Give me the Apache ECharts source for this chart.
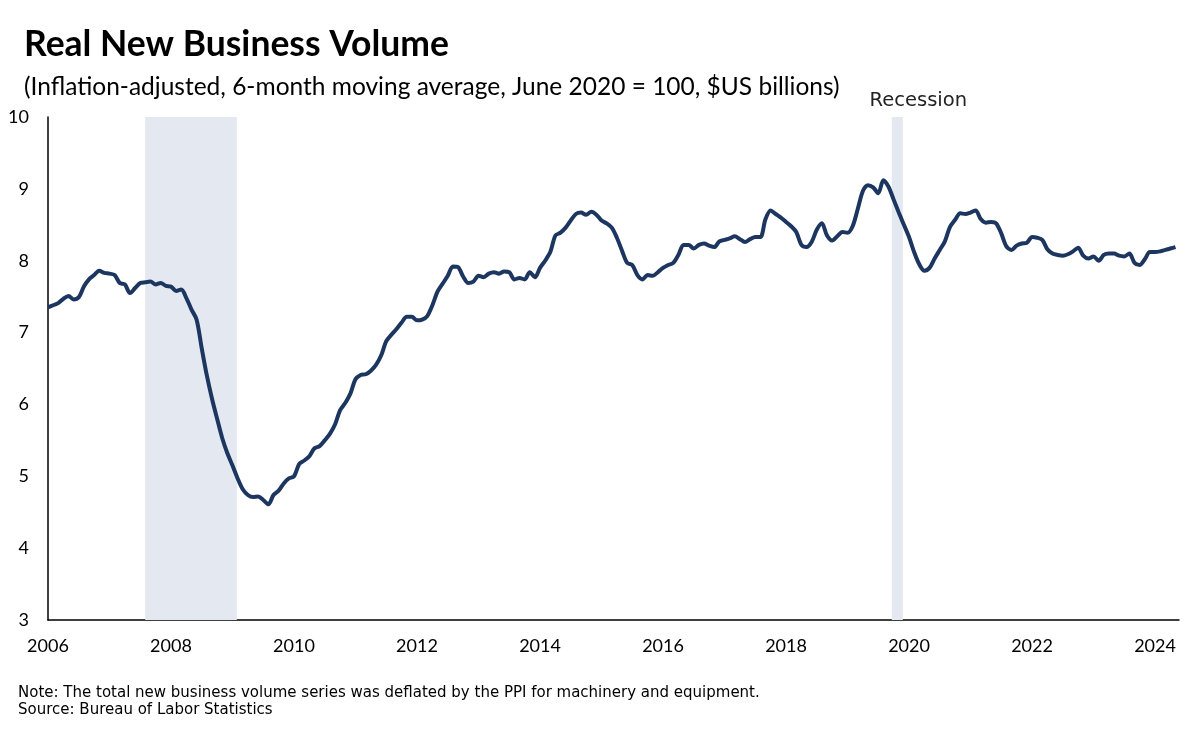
<!DOCTYPE html>
<html>
<head>
<meta charset="utf-8">
<script src="https://cdn.jsdelivr.net/npm/echarts@6/dist/echarts.min.js"></script>
<style>
html,body{margin:0;padding:0;background:#fff;}
#chart{width:1200px;height:732px;}
</style>
</head>
<body>
<div id="chart"></div>
<script>
// Monthly data, January 2006 through May 2024
const startYear = 2006;
const values = [
  7.35, 7.38, 7.41, 7.47, 7.51, 7.46, 7.49, 7.64, 7.74, 7.80, 7.86, 7.83, // 2006
  7.82, 7.80, 7.69, 7.67, 7.55, 7.62, 7.69, 7.70, 7.71, 7.67, 7.69, 7.65, // 2007
  7.64, 7.58, 7.60, 7.48, 7.32, 7.18, 6.78, 6.40, 6.08, 5.80, 5.53, 5.32, // 2008
  5.15, 4.97, 4.82, 4.74, 4.71, 4.72, 4.67, 4.61, 4.74, 4.80, 4.90, 4.97, // 2009
  5.00, 5.17, 5.22, 5.28, 5.39, 5.42, 5.50, 5.59, 5.72, 5.92, 6.02, 6.15, // 2010
  6.35, 6.41, 6.42, 6.47, 6.55, 6.68, 6.88, 6.97, 7.05, 7.14, 7.22, 7.22, // 2011
  7.17, 7.18, 7.23, 7.38, 7.57, 7.68, 7.79, 7.92, 7.91, 7.78, 7.69, 7.71, // 2012
  7.79, 7.77, 7.82, 7.84, 7.82, 7.85, 7.84, 7.74, 7.76, 7.74, 7.84, 7.77, // 2013
  7.90, 8.00, 8.12, 8.35, 8.39, 8.46, 8.56, 8.65, 8.67, 8.64, 8.68, 8.64, // 2014
  8.56, 8.52, 8.46, 8.32, 8.14, 7.97, 7.94, 7.80, 7.74, 7.80, 7.79, 7.84, // 2015
  7.90, 7.94, 7.97, 8.08, 8.22, 8.22, 8.17, 8.22, 8.24, 8.21, 8.19, 8.27, // 2016
  8.29, 8.31, 8.34, 8.30, 8.26, 8.30, 8.33, 8.33, 8.58, 8.70, 8.65, 8.60, // 2017
  8.54, 8.48, 8.40, 8.22, 8.19, 8.26, 8.43, 8.52, 8.35, 8.28, 8.34, 8.40, // 2018
  8.39, 8.48, 8.72, 8.97, 9.05, 9.02, 8.94, 9.12, 9.03, 8.85, 8.67, 8.50, // 2019
  8.33, 8.12, 7.95, 7.86, 7.90, 8.03, 8.15, 8.27, 8.47, 8.57, 8.66, 8.65, // 2020
  8.67, 8.70, 8.58, 8.53, 8.54, 8.52, 8.38, 8.20, 8.15, 8.21, 8.24, 8.25, // 2021
  8.33, 8.32, 8.29, 8.16, 8.10, 8.08, 8.07, 8.09, 8.13, 8.18, 8.07, 8.03, // 2022
  8.06, 8.00, 8.08, 8.10, 8.10, 8.07, 8.06, 8.10, 7.97, 7.94, 8.02, 8.12, // 2023
  8.12, 8.13, 8.15, 8.17, 8.19                                            // 2024
];
const yearTicks = [2006, 2008, 2010, 2012, 2014, 2016, 2018, 2020, 2022, 2024];
const recessions = [[2007.58, 2009.07, ''], [2019.72, 2019.90, 'Recession']];
const xMin = 2006, xMax = 2024.39;
const yMin = 3, yMax = 10;

const seriesData = values.map((v, i) => [startYear + i / 12, v]);

const chart = echarts.init(document.getElementById('chart'), null, {renderer: 'canvas'});
const option = {
  backgroundColor: '#ffffff',
  animation: false,
  title: [
    {text: 'Real New Business Volume', left: 19, top: 22,
     textStyle: {fontFamily: 'Lato', fontWeight: 'bold', fontSize: 35.5, color: '#000'}},
    {text: '(Inflation-adjusted, 6-month moving average, June 2020 = 100, $US billions)', left: 19, top: 70,
     textStyle: {fontFamily: 'Lato', fontWeight: 'normal', fontSize: 24.5, color: '#000'}},
    {text: 'Note: The total new business volume series was deflated by the PPI for machinery and equipment.', left: 13, top: 681,
     textStyle: {fontFamily: 'DejaVu Sans', fontWeight: 'normal', fontSize: 15, color: '#000'}},
    {text: 'Source: Bureau of Labor Statistics', left: 13, top: 698,
     textStyle: {fontFamily: 'DejaVu Sans', fontWeight: 'normal', fontSize: 15, color: '#000'}}
  ],
  grid: {left: 48, right: 21, top: 117, bottom: 112, containLabel: false},
  xAxis: {
    type: 'value', min: xMin, max: xMax, interval: 2,
    axisLine: {show: true, lineStyle: {color: '#000', width: 1.5}},
    axisTick: {show: false},
    splitLine: {show: false},
    axisLabel: {
      color: '#000', fontFamily: 'Lato', fontSize: 18, margin: 17,
      showMaxLabel: false,
      formatter: v => (yearTicks.indexOf(Math.round(v * 1000) / 1000) >= 0 ? String(v) : '')
    }
  },
  yAxis: {
    type: 'value', min: yMin, max: yMax, interval: 1,
    axisLine: {show: true, lineStyle: {color: '#000', width: 1.5}},
    axisTick: {show: false},
    splitLine: {show: false},
    axisLabel: {color: '#000', fontFamily: 'Lato', fontSize: 18, margin: 19}
  },
  series: [{
    type: 'line',
    data: seriesData,
    showSymbol: false,
    smooth: 0.3,
    lineStyle: {color: '#1d3660', width: 4},
    z: 3,
    markArea: {
      silent: true,
      itemStyle: {color: '#e4e8f0'},
      label: {show: true, position: 'top', distance: 6, offset: [21, 0], color: '#222',
              fontFamily: 'DejaVu Sans', fontSize: 19.5},
      data: recessions.map(r => [{xAxis: r[0], name: r[2]}, {xAxis: r[1]}])
    }
  }]
};
chart.setOption(option);
</script>
</body>
</html>
